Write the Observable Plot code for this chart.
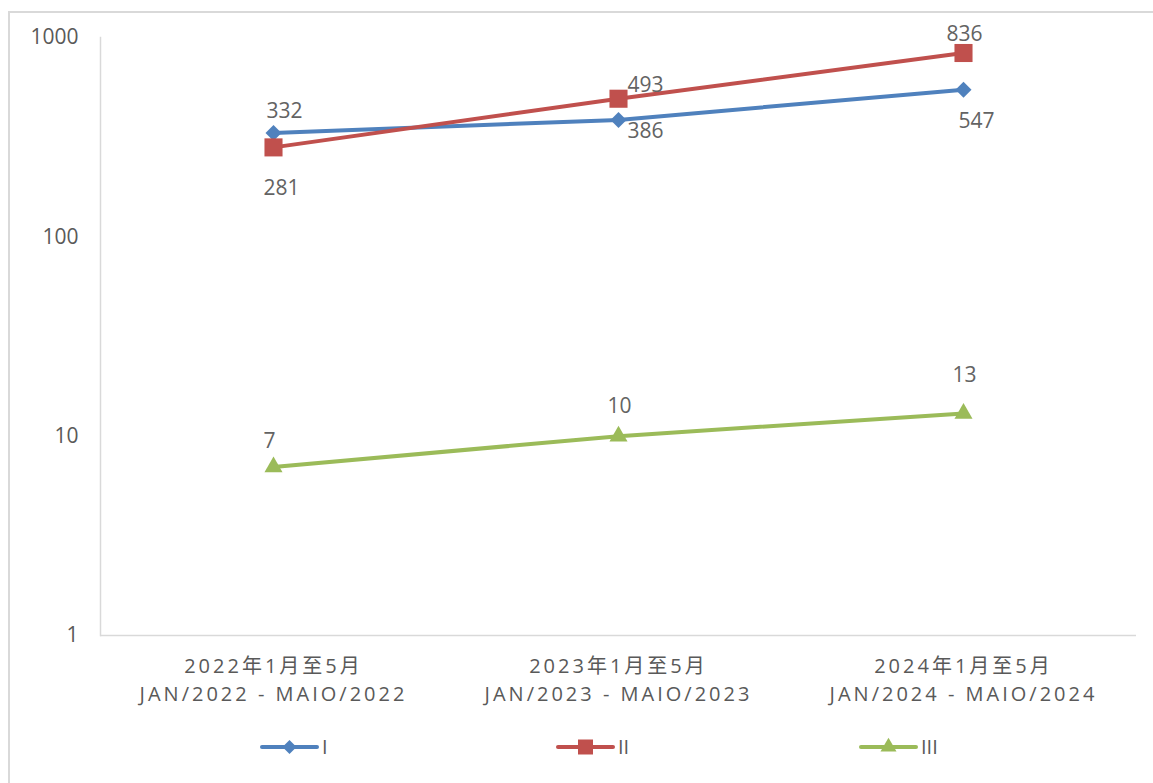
<!DOCTYPE html>
<html>
<head>
<meta charset="utf-8">
<script src="https://cdn.jsdelivr.net/npm/d3@7"></script>
<script src="https://cdn.jsdelivr.net/npm/@observablehq/plot@0.6"></script>
<style>
  html, body { margin: 0; padding: 0; background: #fff; overflow: hidden; }
  #wrap { position: relative; width: 1153px; height: 783px; font-family: "Open Sans", "Noto Sans CJK SC", sans-serif; }
  #border { position: absolute; left: 8px; top: 11px; width: 1300px; height: 900px; border: 2px solid #d9d9d9; box-sizing: border-box; }
  #chart { position: absolute; left: 0; top: 0; }
  #legend { position: absolute; left: 0; top: 730px; }
  #chart svg [aria-label="x-axis tick label"] text { letter-spacing: 3px; }
</style>
</head>
<body>
<div id="wrap">
  <div id="border"></div>
  <div id="chart"></div>
  <div id="legend"></div>
</div>
<script>
// ---- data ----
const periodZh = ["2022年1月至5月", "2023年1月至5月", "2024年1月至5月"];
const periodPt = ["JAN/2022 - MAIO/2022", "JAN/2023 - MAIO/2023", "JAN/2024 - MAIO/2024"];
const seriesNames = ["I", "II", "III"];
const valuesI = [332, 386, 547];
const valuesII = [281, 493, 836];
const valuesIII = [7, 10, 13];
const yTicks = [1, 10, 100, 1000];

// ---- styling (not data) ----
const colors = ["#4f81bd", "#c0504d", "#9bbb59"];
const symbols = ["diamond2", "square", "triangle"];
const markerR = [7.2, 10.2, 6.7];
const labelNudge = [
  [[11, -23], [27, 10], [13, 31]],
  [[8, 40], [27, -14], [1, -20]],
  [[-4, -27], [1, -31], [1, -39]]
];

const seriesValues = [valuesI, valuesII, valuesIII];
const rows = [];
seriesNames.forEach((s, si) => {
  seriesValues[si].forEach((v, i) => rows.push({series: s, si, i, period: periodZh[i], value: v}));
});

const marks = [
  Plot.ruleY([1], {stroke: "#d9d9d9", strokeWidth: 1.5}),
  Plot.frame({anchor: "left", stroke: "#d9d9d9", strokeWidth: 1.5}),
  Plot.axisY({ticks: yTicks, tickFormat: d => String(d), tickSize: 0, tickPadding: 22, fontSize: 21, color: "#595959", label: null}),
  Plot.axisX({tickSize: 0, tickPadding: 18, fontSize: 20, lineHeight: 1.4, color: "#595959", label: null,
    tickFormat: (d) => d + "\n" + periodPt[periodZh.indexOf(d)]})
];

seriesNames.forEach((s, si) => {
  const d = rows.filter(r => r.series === s);
  marks.push(Plot.line(d, {x: "period", y: "value", stroke: colors[si], strokeWidth: 4, strokeLinecap: "round"}));
});
seriesNames.forEach((s, si) => {
  const d = rows.filter(r => r.series === s);
  marks.push(Plot.dot(d, {x: "period", y: "value", symbol: symbols[si], r: markerR[si], fill: colors[si], stroke: "none"}));
});
rows.forEach(r => {
  const [dx, dy] = labelNudge[r.si][r.i];
  marks.push(Plot.text([r], {x: "period", y: "value", text: d => String(d.value), dx, dy: dy + 1,
    fontSize: 21, fill: "#636363", fontFamily: "Open Sans"}));
});

const chart = Plot.plot({
  width: 1153,
  height: 725,
  marginLeft: 100,
  marginRight: 17,
  marginTop: 37,
  marginBottom: 90,
  style: {fontFamily: "'Open Sans', 'Noto Sans CJK SC', sans-serif", background: "transparent", color: "#595959"},
  x: {type: "point", domain: periodZh, padding: 0.5, axis: null},
  y: {type: "log", domain: [1, 1000], axis: null},
  marks
});
document.getElementById("chart").appendChild(chart);

// ---- legend ----
const legendX = [262, 558, 861];
const legendSize = [125, 225, 111];
const lsvg = d3.select("#legend").append("svg").attr("width", 1153).attr("height", 40);
seriesNames.forEach((s, si) => {
  const g = lsvg.append("g").attr("transform", `translate(${legendX[si]},17)`);
  g.append("line").attr("x1", 0).attr("x2", 55).attr("y1", 0).attr("y2", 0)
    .attr("stroke", colors[si]).attr("stroke-width", 4).attr("stroke-linecap", "round");
  const sym = [d3.symbolDiamond2, d3.symbolSquare, d3.symbolTriangle][si];
  g.append("path").attr("transform", "translate(27.5,0)").attr("d", d3.symbol(sym, legendSize[si])()).attr("fill", colors[si]);
  g.append("text").attr("x", 60).attr("y", 7).attr("font-size", 20).attr("fill", "#595959")
    .attr("font-family", "'Open Sans', sans-serif").text(s);
});
</script>
</body>
</html>
